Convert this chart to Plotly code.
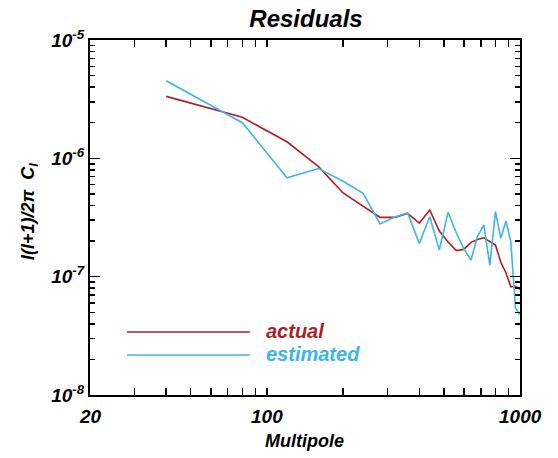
import math
import plotly.graph_objects as go

multipole = [40, 80, 120, 160, 200, 240, 280, 320, 360, 400, 440, 480, 520,
             560, 600, 640, 680, 720, 760, 800, 840, 880, 920, 960, 1000]
actual = [3.34e-6, 2.22e-6, 1.38e-6, 8.5e-7, 5.1e-7, 3.95e-7, 3.17e-7, 3.17e-7,
          3.42e-7, 2.84e-7, 3.66e-7, 2.43e-7, 1.96e-7, 1.66e-7, 1.70e-7, 1.95e-7,
          2.06e-7, 2.13e-7, 1.97e-7, 1.85e-7, 1.32e-7, 1.08e-7, 8.2e-8, 8.3e-8, 7.8e-8]
estimated = [4.53e-6, 2.0e-6, 6.85e-7, 8.2e-7, 6.4e-7, 5.06e-7, 2.79e-7, 3.19e-7,
             3.45e-7, 1.91e-7, 3.21e-7, 1.68e-7, 3.5e-7, 2.35e-7, 1.72e-7, 1.38e-7,
             2.2e-7, 2.73e-7, 1.25e-7, 3.54e-7, 2.11e-7, 2.95e-7, 1.97e-7, 5.4e-8, 4.8e-8]

x_tickvals = [20, 30, 40, 50, 60, 70, 80, 90, 100, 200, 300, 400, 500, 600, 700, 800, 900, 1000]
x_labelvals = [20, 100, 1000]
x_labeltext = ["20", "100", "1000"]
y_tickvals = [1e-8, 1e-7, 1e-6, 1e-5]
y_ticktext = ["10<sup>-8</sup>", "10<sup>-7</sup>", "10<sup>-6</sup>", "10<sup>-5</sup>"]
y_minor = [2e-8, 3e-8, 4e-8, 5e-8, 6e-8, 7e-8, 8e-8, 9e-8,
           2e-7, 3e-7, 4e-7, 5e-7, 6e-7, 7e-7, 8e-7, 9e-7,
           2e-6, 3e-6, 4e-6, 5e-6, 6e-6, 7e-6, 8e-6, 9e-6]

RED = "#B01E23"
BLUE = "#3DB5E8"
FONT = "Liberation Sans"

XMIN, XMAX = math.log10(20), math.log10(1000)

fig = go.Figure()
fig.add_trace(go.Scatter(x=multipole, y=actual, mode="lines",
                         line=dict(color=RED, width=1.6), showlegend=False, hoverinfo="skip"))
fig.add_trace(go.Scatter(x=multipole, y=estimated, mode="lines",
                         line=dict(color=BLUE, width=1.6), showlegend=False, hoverinfo="skip"))

W, H = 558, 458
L, R, T, B = 90, 37.5, 40, 63
pw, ph = W - L - R, H - T - B

def px2paper(x, y):
    return (x - L) / pw, (H - B - y) / ph

for (yy, col, txt) in [(332, RED, "actual"), (355, BLUE, "estimated")]:
    x0, y0 = px2paper(127, yy)
    x1, _ = px2paper(250, yy)
    fig.add_shape(type="line", xref="paper", yref="paper", x0=x0, x1=x1, y0=y0, y1=y0,
                  line=dict(color=col, width=1.3))
    tx, ty = px2paper(264, yy - 1)
    fig.add_annotation(xref="paper", yref="paper", x=tx, y=ty, text=txt, showarrow=False,
                       xanchor="left", yanchor="middle",
                       font=dict(family=FONT, size=20, color=col, weight="bold", style="italic"))

# y axis title
ax, ay = px2paper(29, 212)
fig.add_annotation(xref="paper", yref="paper", x=ax, y=ay, text="l(l+1)/2π  C<sub>l</sub>",
                   showarrow=False, textangle=-90, xanchor="center", yanchor="middle",
                   font=dict(family=FONT, size=18, color="black", weight="bold", style="italic"))

# x tick labels, placed by the x axis scale (paper fraction of the log range)
_, ly = px2paper(0, 417)
for v, t in zip(x_labelvals, x_labeltext):
    fx = (math.log10(v) - XMIN) / (XMAX - XMIN)
    fig.add_annotation(xref="paper", yref="paper", x=fx, y=ly, text=t, showarrow=False,
                       xanchor="center", yanchor="middle",
                       font=dict(family=FONT, size=19, color="black", weight="bold", style="italic"))
tx, ty = px2paper(305, 441)
fig.add_annotation(xref="paper", yref="paper", x=tx, y=ty, text="Multipole", showarrow=False,
                   xanchor="center", yanchor="middle",
                   font=dict(family=FONT, size=18, color="black", weight="bold", style="italic"))

fig.update_layout(
    width=W, height=H,
    margin=dict(l=L, r=R, t=T, b=B, pad=0, autoexpand=False),
    paper_bgcolor="white", plot_bgcolor="white",
    title=dict(text="Residuals", x=306 / W, xanchor="center", y=1 - 19 / H, yanchor="middle",
               font=dict(family=FONT, size=24, color="black", weight="bold", style="italic")),
    font=dict(family=FONT, color="black"),
)

fig.update_xaxes(type="log", range=[XMIN, XMAX], showgrid=False, zeroline=False,
                 automargin=False, showline=True, linecolor="black", linewidth=2,
                 mirror="allticks", ticks="inside", ticklen=7, tickwidth=1.5, tickcolor="#000000",
                 tickmode="array", tickvals=x_tickvals, showticklabels=False)
fig.update_yaxes(type="log", range=[-8, -5], showgrid=False, zeroline=False,
                 automargin=False, showline=True, linecolor="black", linewidth=2,
                 mirror="allticks", ticks="inside", ticklen=10, tickwidth=1.5, tickcolor="#000000",
                 tickmode="array", tickvals=y_tickvals, ticktext=y_ticktext,
                 minor=dict(ticks="inside", ticklen=5, tickwidth=1.5, tickcolor="#000000",
                            tickmode="array", tickvals=y_minor),
                 tickfont=dict(family=FONT, size=19, weight="bold", style="italic"))

fig.write_html("out.html", config={"displayModeBar": False, "staticPlot": True},
               post_script="document.body.style.margin='0';document.body.style.padding='0';")
